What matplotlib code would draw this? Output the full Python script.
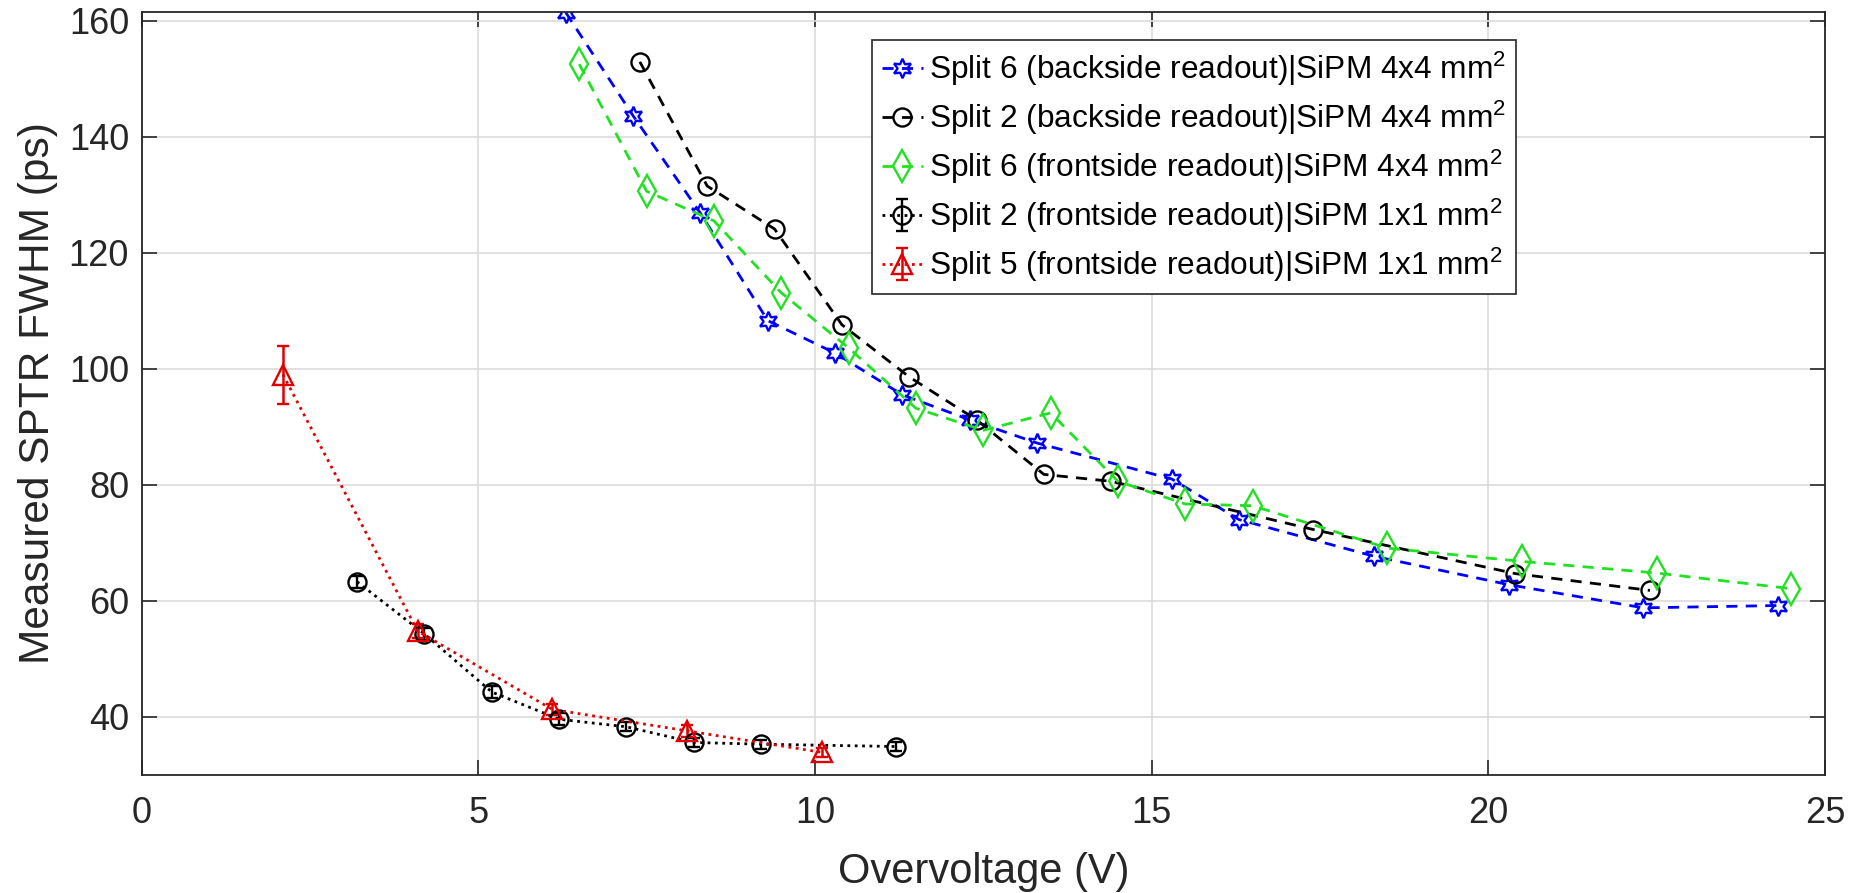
import matplotlib
matplotlib.use("Agg")
import matplotlib.pyplot as plt
import numpy as np

plt.rcParams['font.family'] = ['Liberation Sans', 'DejaVu Sans']
plt.rcParams['mathtext.default'] = 'regular'

# Split 6, backside readout, SiPM 4x4 mm^2
s6_back_x = [6.3, 7.3, 8.3, 9.3, 10.3, 11.3, 12.3, 13.3, 15.3, 16.3, 18.3, 20.3, 22.3, 24.3]
s6_back_y = [161.4, 143.6, 126.8, 108.3, 102.7, 95.5, 91.2, 87.2, 81.0, 74.0, 67.7, 62.8, 58.8, 59.2]

# Split 2, backside readout, SiPM 4x4 mm^2
s2_back_x = [7.4, 8.4, 9.4, 10.4, 11.4, 12.4, 13.4, 14.4, 17.4, 20.4, 22.4]
s2_back_y = [152.9, 131.5, 124.1, 107.6, 98.6, 91.2, 81.8, 80.6, 72.3, 64.7, 61.8]

# Split 6, frontside readout, SiPM 4x4 mm^2
s6_front_x = [6.5, 7.5, 8.5, 9.5, 10.5, 11.5, 12.5, 13.5, 14.5, 15.5, 16.5, 18.5, 20.5, 22.5, 24.5]
s6_front_y = [152.5, 130.6, 125.5, 113.1, 103.6, 93.2, 89.4, 92.4, 80.6, 76.7, 76.4, 69.1, 66.8, 64.8, 62.1]

# Split 2, frontside readout, SiPM 1x1 mm^2 (with error bars)
s2_front_x = [3.2, 4.2, 5.2, 6.2, 7.2, 8.2, 9.2, 11.2]
s2_front_y = [63.3, 54.3, 44.3, 39.6, 38.3, 35.6, 35.3, 34.9]
s2_front_err = [1.0, 1.0, 1.0, 1.0, 0.8, 0.8, 0.8, 0.8]

# Split 5, frontside readout, SiPM 1x1 mm^2 (with error bars)
s5_front_x = [2.1, 4.1, 6.1, 8.1, 10.1]
s5_front_y = [99.0, 54.8, 41.3, 37.6, 33.9]
s5_front_err = [5.0, 1.2, 1.0, 1.0, 0.8]

labels = [
    'Split 6 (backside readout)|SiPM 4x4 mm$^2$',
    'Split 2 (backside readout)|SiPM 4x4 mm$^2$',
    'Split 6 (frontside readout)|SiPM 4x4 mm$^2$',
    'Split 2 (frontside readout)|SiPM 1x1 mm$^2$',
    'Split 5 (frontside readout)|SiPM 1x1 mm$^2$',
]

fig = plt.figure(figsize=(18.53, 8.93), dpi=100)
ax = fig.add_axes([0.0764, 0.1322, 0.9085, 0.8544])

lw = 2.0
mew = 1.7
dash = (4, 3)

ax.plot(s6_back_x, s6_back_y, color='blue', ls='--', dashes=dash, lw=lw,
        marker=(6, 1, 0), ms=14, mfc='none', mew=mew, label=labels[0])
ax.plot(s2_back_x, s2_back_y, color='black', ls='--', dashes=dash, lw=lw,
        marker='o', ms=13, mfc='none', mew=mew, label=labels[1])
ax.plot(s6_front_x, s6_front_y, color='#22e022', ls='--', dashes=dash, lw=lw,
        marker='d', ms=16, mfc='none', mew=mew, label=labels[2])
ax.errorbar(s2_front_x, s2_front_y, yerr=s2_front_err, color='black', ls=':', lw=lw,
            marker='o', ms=13, mfc='none', mew=mew, elinewidth=1.7, capsize=4,
            capthick=1.7, label=labels[3])
ax.errorbar(s5_front_x, s5_front_y, yerr=s5_front_err, color='#e00000', ls=':', lw=lw,
            marker='^', ms=15, mfc='none', mew=mew, elinewidth=1.8, capsize=4,
            capthick=1.8, label=labels[4])

ax.set_xlim(0, 25)
ax.set_ylim(30, 161.5)
ax.set_xticks(np.arange(0, 26, 5))
ax.set_yticks(np.arange(40, 161, 20))
ax.grid(True, color='#dcdcdc', lw=1.2)
ax.set_axisbelow(True)
ax.tick_params(direction='in', length=11, width=1.2, top=True, right=True,
               labelsize=26, colors='#262626')
ax.tick_params(axis='x', pad=15)
ax.tick_params(axis='y', pad=9)
for s in ax.spines.values():
    s.set_color('#262626')
    s.set_linewidth(1.3)

ax.set_xlabel('Overvoltage (V)', fontsize=30, color='#262626', labelpad=15)
ax.set_ylabel('Measured SPTR FWHM (ps)', fontsize=30.5, color='#262626', labelpad=8)

leg = ax.legend(loc='upper left', bbox_to_anchor=(0.434, 0.963), fontsize=22.8,
                fancybox=False, edgecolor='#262626', framealpha=1,
                handlelength=1.3, handletextpad=0.2, borderpad=0.3,
                labelspacing=0.34, borderaxespad=0)
leg.get_frame().set_linewidth(1.2)

fig.savefig('out.png', dpi=100)
